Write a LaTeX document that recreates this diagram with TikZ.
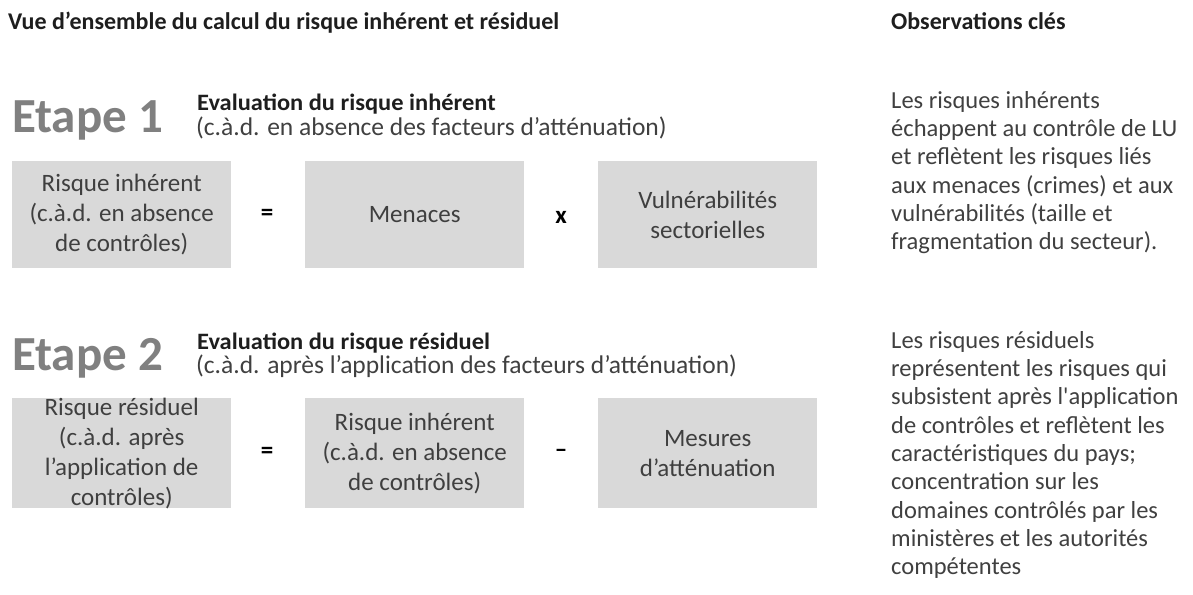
\documentclass[tikz,border=0pt]{standalone}
\usepackage{fontspec}
\setmainfont{Carlito}
\newfontfamily\widefont[FakeStretch=1.04]{Carlito}
\definecolor{boxgray}{HTML}{D9D9D9}
\definecolor{boxink}{HTML}{3F3F3F}
\definecolor{headink}{HTML}{1E1E1E}
\definecolor{bodyink}{HTML}{404040}
\definecolor{etapegray}{HTML}{808080}
\begin{document}
\begin{tikzpicture}[x=1pt,y=-1pt,
  box/.style={fill=boxgray, minimum width=219pt, inner sep=0pt, anchor=north west},
  boxtext/.style={align=center, text=boxink, inner sep=0pt, font=\fontsize{25}{30}\selectfont},
  op/.style={text=black, inner sep=0pt, font=\fontsize{25}{30}\selectfont\bfseries},
  title/.style={anchor=base west, inner sep=0pt, text=headink, font=\fontsize{24}{28}\selectfont\bfseries},
  heading/.style={anchor=base west, inner sep=0pt, text=headink, font=\widefont\fontsize{23.5}{26}\selectfont\bfseries},
  subhead/.style={anchor=base west, inner sep=0pt, text=bodyink, font=\fontsize{25.5}{28}\selectfont},
  etape/.style={anchor=base west, inner sep=0pt, text=etapegray, font=\fontsize{49}{52}\selectfont\bfseries},
  note/.style={anchor=north west, inner sep=0pt, align=left, text=bodyink, font=\fontsize{24.5}{28.3}\selectfont},
]
\fill[white] (0,0) rectangle (1193,594);
\useasboundingbox (0,0) rectangle (1193,594);

% column titles
\node[title] (title) at (8,30) {Vue d’ensemble du calcul du risque inhérent et résiduel};
\node[title] (obstitle) at (891,30) {Observations clés};

% step 1: inherent risk
\node[etape] (etape1) at (12,132) {Etape 1};
\node[heading] (head1) at (197,110) {Evaluation du risque inhérent};
\node[subhead] (sub1) at (196,135) {(c.à.d. en absence des facteurs d’atténuation)};

\node[box, minimum height=107pt] (b11) at (12,161) {};
\node[box, minimum height=107pt] (b12) at (305,161) {};
\node[box, minimum height=107pt] (b13) at (598,161) {};
\node[boxtext] (t11) at (b11.center) {Risque inhérent\\(c.à.d. en absence\\de contrôles)};
\node[boxtext] (t12) at (b12.center) {Menaces};
\node[boxtext] (t13) at (b13.center) {Vulnérabilités\\sectorielles};
\node[op] (eq1) at (267,215) {=};
\node[op] (times1) at (561,217) {x};

% step 2: residual risk
\node[etape] (etape2) at (12,370) {Etape 2};
\node[heading] (head2) at (197,349) {Evaluation du risque résiduel};
\node[subhead] (sub2) at (196,373) {(c.à.d. après l’application des facteurs d’atténuation)};

\node[box, minimum height=110pt] (b21) at (12,398) {};
\node[box, minimum height=110pt] (b22) at (305,398) {};
\node[box, minimum height=110pt] (b23) at (598,398) {};
\node[boxtext] (t21) at (b21.center) {Risque résiduel\\(c.à.d. après\\l’application de\\contrôles)};
\node[boxtext] (t22) at (b22.center) {Risque inhérent\\(c.à.d. en absence\\de contrôles)};
\node[boxtext] (t23) at (b23.center) {Mesures\\d’atténuation};
\node[op] (eq2) at (267,453) {=};
\node[op] (minus2) at (561,453) {–};

% key observations
\node[note] (obs1) at (891,91) {Les risques inhérents\\échappent au contrôle de LU\\et reflètent les risques liés\\aux menaces (crimes) et aux\\vulnérabilités (taille et\\fragmentation du secteur).};
\node[note] (obs2) at (891,331) {Les risques résiduels\\représentent les risques qui\\subsistent après l\textquotesingle application\\de contrôles et reflètent les\\caractéristiques du pays;\\concentration sur les\\domaines contrôlés par les\\ministères et les autorités\\compétentes};
\end{tikzpicture}
\end{document}
